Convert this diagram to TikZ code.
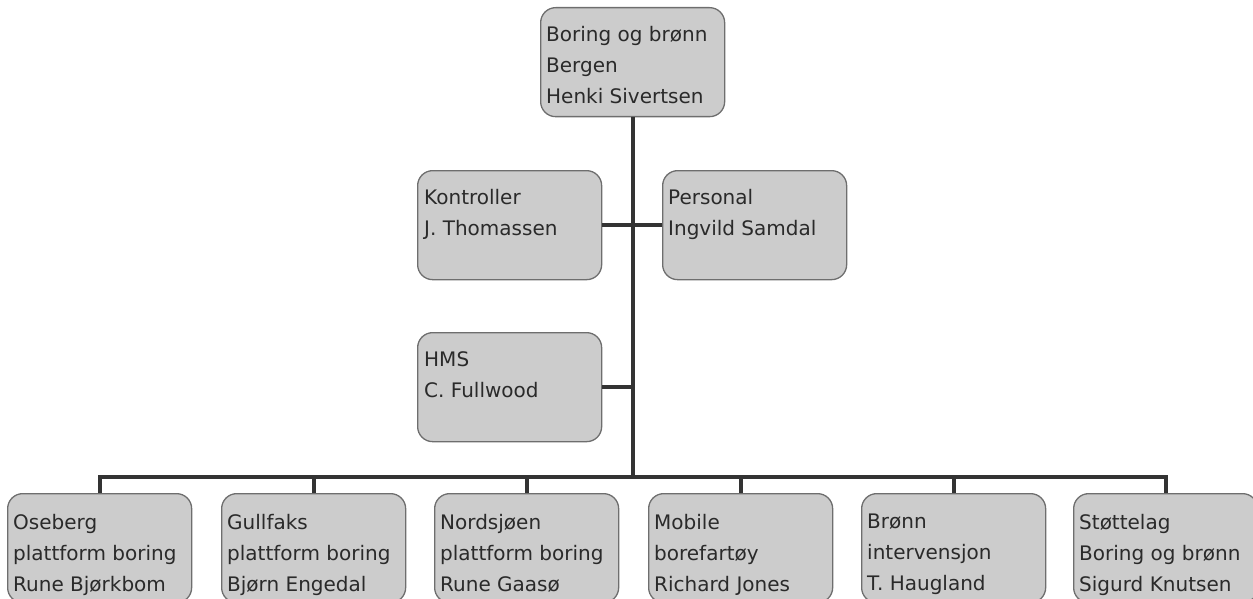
\documentclass[tikz,border=0pt]{standalone}
\usepackage{fontspec}
\setmainfont{DejaVu Sans}
\usetikzlibrary{calc}
\definecolor{boxfill}{HTML}{CCCCCC}
\definecolor{boxline}{HTML}{6E6E6E}
\definecolor{wirecol}{HTML}{333333}
\definecolor{inkcol}{HTML}{2A2A2A}
\begin{document}
\begin{tikzpicture}[x=1pt,y=-1pt,
  unit/.style={draw=boxline, line width=1.3pt, fill=boxfill, rounded corners=15pt,
    minimum width=184pt, minimum height=109pt, inner sep=0pt, anchor=north west},
  caption/.style={anchor=north west, inner sep=0pt, align=left,
    font=\fontsize{20pt}{31pt}\selectfont, text=inkcol},
  wire/.style={draw=wirecol, line width=4pt}]
\useasboundingbox (0,0) rectangle (1253,599);
\clip (0,0) rectangle (1253,599);

% boxes
\node[unit] (top) at (540,7) {};
\node[unit] (ctl) at (417,170) {};
\node[unit] (per) at (662,170) {};
\node[unit] (hms) at (417,332) {};
\node[unit] (b1) at (7,493) {};
\node[unit] (b2) at (221,493) {};
\node[unit] (b3) at (434,493) {};
\node[unit] (b4) at (648,493) {};
\node[unit] (b5) at (861,493) {};
\node[unit] (b6) at (1073,493) {};

% captions
\node[caption] (ttop) at ($(top.north west)+(6,19)$) {Boring og brønn\\Bergen\\Henki Sivertsen};
\node[caption] (tctl) at ($(ctl.north west)+(7,19)$) {Kontroller\\J. Thomassen};
\node[caption] (tper) at ($(per.north west)+(6,19)$) {Personal\\Ingvild Samdal};
\node[caption] (thms) at ($(hms.north west)+(7,19)$) {HMS\\C. Fullwood};
\node[caption] (tb1) at ($(b1.north west)+(6,21)$) {Oseberg\\plattform boring\\Rune Bjørkbom};
\node[caption] (tb2) at ($(b2.north west)+(6,21)$) {Gullfaks\\plattform boring\\Bjørn Engedal};
\node[caption] (tb3) at ($(b3.north west)+(6,21)$) {Nordsjøen\\plattform boring\\Rune Gaasø};
\node[caption] (tb4) at ($(b4.north west)+(6,21)$) {Mobile\\borefartøy\\Richard Jones};
\node[caption] (tb5) at ($(b5.north west)+(6,21)$) {Brønn\\intervensjon\\T. Haugland};
\node[caption] (tb6) at ($(b6.north west)+(6,21)$) {Støttelag\\Boring og brønn\\Sigurd Knutsen};

% connectors
\coordinate (bus) at (0,477);
\draw[wire] (top.south) -- (top.south |- bus);
\draw[wire] (ctl.east) -- (per.west);
\draw[wire] (hms.east) -- (hms.east -| top.south);
\draw[wire] (b1.north) |- (b6.north |- bus) -- (b6.north);
\foreach \b in {b2,b3,b4,b5}
  \draw[wire] (\b.north) -- (\b.north |- bus);
\end{tikzpicture}
\end{document}
